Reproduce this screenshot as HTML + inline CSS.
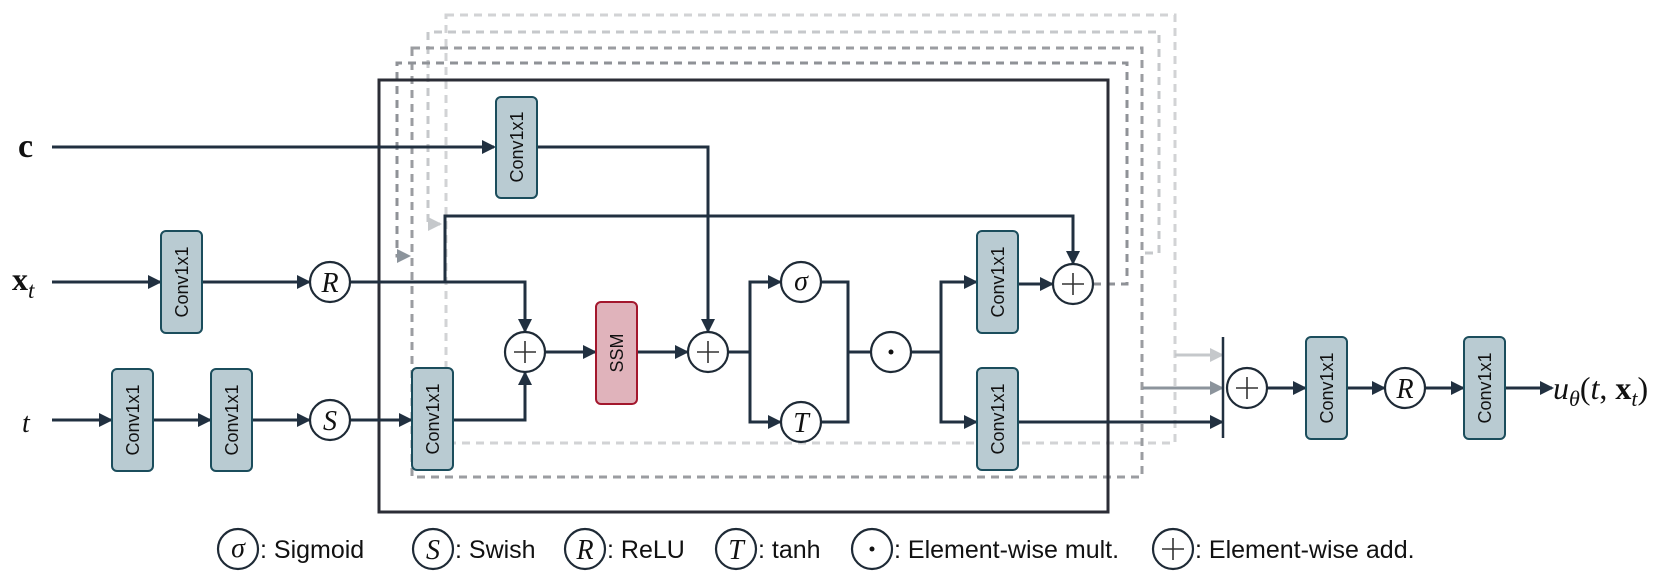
<!DOCTYPE html>
<html><head><meta charset="utf-8"><style>
html,body{margin:0;padding:0;background:#fff;}
svg{display:block;}
.cv{fill:#b9cbd2;stroke:#1b4d5c;stroke-width:2;}
.cvt{font-family:"Liberation Sans",sans-serif;font-size:18px;fill:#111;}
.ln{stroke:#213040;stroke-width:3;fill:none;}
.ci{fill:#fff;stroke:#1e2a36;stroke-width:2.2;}
.ms{font-family:"Liberation Serif",serif;font-style:italic;font-size:28px;fill:#111;}
.lg{font-family:"Liberation Sans",sans-serif;font-size:25px;fill:#111;}
.d{fill:none;stroke-width:3;stroke-dasharray:8 6;}
</style></head><body>
<svg width="1661" height="582" viewBox="0 0 1661 582" xmlns="http://www.w3.org/2000/svg">
<defs>
<marker id="a" markerWidth="14" markerHeight="14" refX="12" refY="7" orient="auto" markerUnits="userSpaceOnUse"><path d="M0,0 L14,7 L0,14 z" fill="#213040"/></marker>
<marker id="al" markerWidth="14" markerHeight="14" refX="12" refY="7" orient="auto" markerUnits="userSpaceOnUse"><path d="M0,0 L14,7 L0,14 z" fill="#c5c8cb"/></marker>
<marker id="am" markerWidth="14" markerHeight="14" refX="12" refY="7" orient="auto" markerUnits="userSpaceOnUse"><path d="M0,0 L14,7 L0,14 z" fill="#8c949c"/></marker>
</defs>

<rect x="446" y="15" width="729" height="428" class="d" stroke="#d2d3d5"/>
<path d="M1145,253 L1159,253 L1159,32 L428,32 L428,224 L440,224" class="d" stroke="#c6c8cb" marker-end="url(#al)"/>
<rect x="412" y="48" width="730" height="429" class="d" stroke="#9b9da1"/>
<path d="M1093,284 L1127,284 L1127,63 L397,63 L397,256 L409,256" class="d" stroke="#8f9297" marker-end="url(#am)"/>
<line x1="1175" y1="355" x2="1222" y2="355" stroke="#c5c8cb" stroke-width="3" marker-end="url(#al)"/>
<line x1="1143" y1="388" x2="1222" y2="388" stroke="#8c949c" stroke-width="3" marker-end="url(#am)"/>

<rect x="379" y="80" width="729" height="432" fill="none" stroke="#2b2d36" stroke-width="3"/>

<line x1="52" y1="147" x2="494" y2="147" class="ln" marker-end="url(#a)"/>
<path d="M537,147 L708,147 L708,331" class="ln" marker-end="url(#a)"/>
<line x1="52" y1="282" x2="160" y2="282" class="ln" marker-end="url(#a)"/>
<line x1="202" y1="282" x2="309" y2="282" class="ln" marker-end="url(#a)"/>
<path d="M350,282 L525,282 L525,331" class="ln" marker-end="url(#a)"/>
<path d="M445,282 L445,216 L1073,216 L1073,263" class="ln" marker-end="url(#a)"/>
<line x1="52" y1="420" x2="111" y2="420" class="ln" marker-end="url(#a)"/>
<line x1="153" y1="420" x2="210" y2="420" class="ln" marker-end="url(#a)"/>
<line x1="252" y1="420" x2="309" y2="420" class="ln" marker-end="url(#a)"/>
<line x1="350" y1="420" x2="411" y2="420" class="ln" marker-end="url(#a)"/>
<path d="M453,420 L525,420 L525,373" class="ln" marker-end="url(#a)"/>
<line x1="545" y1="352" x2="595" y2="352" class="ln" marker-end="url(#a)"/>
<line x1="637" y1="352" x2="687" y2="352" class="ln" marker-end="url(#a)"/>
<path d="M728,352 L750,352" class="ln"/>
<path d="M750,352 L750,282 L780,282" class="ln" marker-end="url(#a)"/>
<path d="M750,352 L750,422 L780,422" class="ln" marker-end="url(#a)"/>
<path d="M821,282 L848,282 L848,422 L821,422 M848,352 L871,352" class="ln"/>
<line x1="911" y1="352" x2="941" y2="352" class="ln"/>
<path d="M941,352 L941,282 L976,282" class="ln" marker-end="url(#a)"/>
<path d="M941,352 L941,422 L976,422" class="ln" marker-end="url(#a)"/>
<line x1="1018" y1="284" x2="1052" y2="284" class="ln" marker-end="url(#a)"/>
<line x1="1018" y1="422" x2="1222" y2="422" class="ln" marker-end="url(#a)"/>
<line x1="1223" y1="337" x2="1223" y2="438" stroke="#213040" stroke-width="2.5"/>
<line x1="1267" y1="388" x2="1305" y2="388" class="ln" marker-end="url(#a)"/>
<line x1="1346" y1="388" x2="1384" y2="388" class="ln" marker-end="url(#a)"/>
<line x1="1425" y1="388" x2="1463" y2="388" class="ln" marker-end="url(#a)"/>
<line x1="1504" y1="388" x2="1552" y2="388" class="ln" marker-end="url(#a)"/>

<g>
<rect x="496" y="97" width="41" height="101" rx="5" class="cv"/><text class="cvt" transform="translate(523,147) rotate(-90)" text-anchor="middle">Conv1x1</text>
<rect x="161" y="231" width="41" height="102" rx="5" class="cv"/><text class="cvt" transform="translate(188,282) rotate(-90)" text-anchor="middle">Conv1x1</text>
<rect x="112" y="369" width="41" height="102" rx="5" class="cv"/><text class="cvt" transform="translate(139,420) rotate(-90)" text-anchor="middle">Conv1x1</text>
<rect x="211" y="369" width="41" height="102" rx="5" class="cv"/><text class="cvt" transform="translate(238,420) rotate(-90)" text-anchor="middle">Conv1x1</text>
<rect x="412" y="368" width="41" height="102" rx="5" class="cv"/><text class="cvt" transform="translate(439,419) rotate(-90)" text-anchor="middle">Conv1x1</text>
<rect x="977" y="231" width="41" height="102" rx="5" class="cv"/><text class="cvt" transform="translate(1004,282) rotate(-90)" text-anchor="middle">Conv1x1</text>
<rect x="977" y="368" width="41" height="102" rx="5" class="cv"/><text class="cvt" transform="translate(1004,419) rotate(-90)" text-anchor="middle">Conv1x1</text>
<rect x="1306" y="337" width="41" height="102" rx="5" class="cv"/><text class="cvt" transform="translate(1333,388) rotate(-90)" text-anchor="middle">Conv1x1</text>
<rect x="1464" y="337" width="41" height="102" rx="5" class="cv"/><text class="cvt" transform="translate(1491,388) rotate(-90)" text-anchor="middle">Conv1x1</text>
<rect x="596" y="302" width="41" height="102" rx="5" fill="#e0b3bb" stroke="#a3172d" stroke-width="2"/><text class="cvt" transform="translate(623,353) rotate(-90)" text-anchor="middle">SSM</text>
</g>

<g>
<circle cx="330" cy="282" r="20" class="ci"/><text x="330" y="292" class="ms" text-anchor="middle">R</text>
<circle cx="330" cy="420" r="20" class="ci"/><text x="330" y="430" class="ms" text-anchor="middle">S</text>
<circle cx="801" cy="282" r="20" class="ci"/><text x="801" y="290" class="ms" text-anchor="middle">σ</text>
<circle cx="801" cy="422" r="20" class="ci"/><text x="801" y="432" class="ms" text-anchor="middle">T</text>
<circle cx="1405" cy="388" r="20" class="ci"/><text x="1405" y="398" class="ms" text-anchor="middle">R</text>
<circle cx="891" cy="352" r="20" class="ci"/><circle cx="891" cy="352" r="2.5" fill="#111"/>
<g stroke="#333" stroke-width="1.6">
<circle cx="525" cy="352" r="20" class="ci"/><path d="M514,352h22M525,341v22"/>
<circle cx="708" cy="352" r="20" class="ci"/><path d="M697,352h22M708,341v22"/>
<circle cx="1073" cy="284" r="20" class="ci"/><path d="M1062,284h22M1073,273v22"/>
<circle cx="1247" cy="388" r="20" class="ci"/><path d="M1236,388h22M1247,377v22"/>
</g>
</g>

<text x="18" y="157" font-family="Liberation Serif,serif" font-weight="bold" font-size="34" fill="#111">c</text>
<text x="12" y="290" font-family="Liberation Serif,serif" font-weight="bold" font-size="32" fill="#111">x<tspan font-weight="normal" font-style="italic" font-size="23" dy="8">t</tspan></text>
<text x="22" y="432" class="ms" font-size="32">t</text>
<text x="1553" y="399" font-family="Liberation Serif,serif" font-size="32" fill="#111"><tspan font-style="italic">u</tspan><tspan font-style="italic" font-size="22" dy="7">θ</tspan><tspan dy="-7">(</tspan><tspan font-style="italic">t</tspan>, <tspan font-weight="bold">x</tspan><tspan font-style="italic" font-size="22" dy="7">t</tspan><tspan dy="-7">)</tspan></text>

<g>
<circle cx="238" cy="549" r="20" class="ci"/><text x="238" y="557" class="ms" text-anchor="middle">σ</text>
<text x="260" y="558" class="lg">: Sigmoid</text>
<circle cx="433" cy="549" r="20" class="ci"/><text x="433" y="559" class="ms" text-anchor="middle">S</text>
<text x="455" y="558" class="lg">: Swish</text>
<circle cx="585" cy="549" r="20" class="ci"/><text x="585" y="559" class="ms" text-anchor="middle">R</text>
<text x="607" y="558" class="lg">: ReLU</text>
<circle cx="736" cy="549" r="20" class="ci"/><text x="736" y="559" class="ms" text-anchor="middle">T</text>
<text x="758" y="558" class="lg">: tanh</text>
<circle cx="872" cy="549" r="20" class="ci"/><circle cx="872" cy="549" r="2.5" fill="#111"/>
<text x="894" y="558" class="lg">: Element-wise mult.</text>
<circle cx="1173" cy="549" r="20" class="ci"/><path d="M1162,549h22M1173,538v22" stroke="#333" stroke-width="1.6"/>
<text x="1195" y="558" class="lg">: Element-wise add.</text>
</g>
</svg>
</body></html>
